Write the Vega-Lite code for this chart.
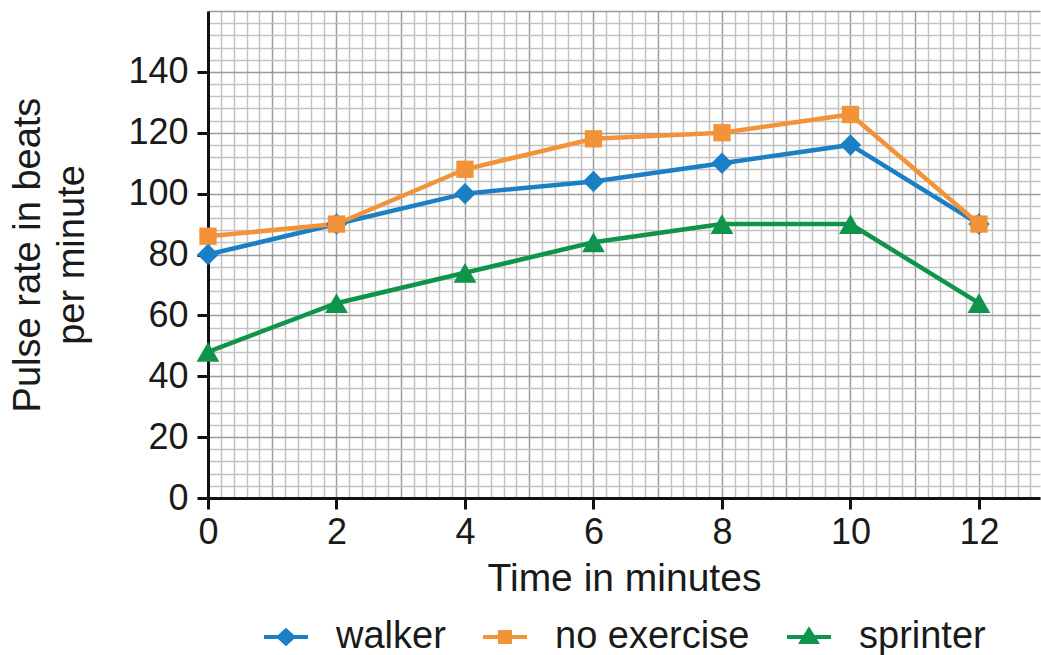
{
  "$schema": "https://vega.github.io/schema/vega-lite/v6.json",
  "autosize": "none",
  "width": 832,
  "height": 487,
  "padding": {"left": 208, "top": 11, "right": 1, "bottom": 157},
  "background": "white",
  "config": {
    "font": "Liberation Sans",
    "view": {"stroke": null}
  },
  "data": {
    "values": [
      {"t": 0, "bpm": 80, "series": "walker"},
      {"t": 2, "bpm": 90, "series": "walker"},
      {"t": 4, "bpm": 100, "series": "walker"},
      {"t": 6, "bpm": 104, "series": "walker"},
      {"t": 8, "bpm": 110, "series": "walker"},
      {"t": 10, "bpm": 116, "series": "walker"},
      {"t": 12, "bpm": 90, "series": "walker"},
      {"t": 0, "bpm": 86, "series": "no exercise"},
      {"t": 2, "bpm": 90, "series": "no exercise"},
      {"t": 4, "bpm": 108, "series": "no exercise"},
      {"t": 6, "bpm": 118, "series": "no exercise"},
      {"t": 8, "bpm": 120, "series": "no exercise"},
      {"t": 10, "bpm": 126, "series": "no exercise"},
      {"t": 12, "bpm": 90, "series": "no exercise"},
      {"t": 0, "bpm": 48, "series": "sprinter"},
      {"t": 2, "bpm": 64, "series": "sprinter"},
      {"t": 4, "bpm": 74, "series": "sprinter"},
      {"t": 6, "bpm": 84, "series": "sprinter"},
      {"t": 8, "bpm": 90, "series": "sprinter"},
      {"t": 10, "bpm": 90, "series": "sprinter"},
      {"t": 12, "bpm": 64, "series": "sprinter"}
    ]
  },
  "encoding": {
    "x": {
      "field": "t",
      "type": "quantitative",
      "scale": {"domain": [0, 12.95], "nice": false, "zero": false},
      "axis": {
        "title": "Time in minutes",
        "titleFontSize": 39,
        "titleFontWeight": "normal",
        "titleColor": "#1a1a1a",
        "titlePadding": 9,
        "values": [0, 0.2, 0.4, 0.6, 0.8, 1, 1.2, 1.4, 1.6, 1.8, 2, 2.2, 2.4, 2.6, 2.8, 3, 3.2, 3.4, 3.6, 3.8, 4, 4.2, 4.4, 4.6, 4.8, 5, 5.2, 5.4, 5.6, 5.8, 6, 6.2, 6.4, 6.6, 6.8, 7, 7.2, 7.4, 7.6, 7.8, 8, 8.2, 8.4, 8.6, 8.8, 9, 9.2, 9.4, 9.6, 9.8, 10, 10.2, 10.4, 10.6, 10.8, 11, 11.2, 11.4, 11.6, 11.8, 12, 12.2, 12.4, 12.6, 12.8],
        "labelExpr": "datum.value % 2 === 0 ? format(datum.value, 'd') : ''",
        "labelOverlap": false,
        "labelFlush": false,
        "labelBound": false,
        "labelFontSize": 36,
        "labelColor": "#1a1a1a",
        "labelPadding": 6,
        "grid": true,
        "gridColor": {"condition": {"test": "datum.value % 1 === 0", "value": "#9c9c9c"}, "value": "#c2c2c2"},
        "gridWidth": 1.5,
        "gridOpacity": 1,
        "ticks": true,
        "tickColor": "#111111",
        "tickWidth": 3,
        "tickSize": 11,
        "tickOpacity": {"condition": {"test": "datum.value % 2 === 0", "value": 1}, "value": 0},
        "domain": true,
        "domainColor": "#111111",
        "domainWidth": 3
      }
    },
    "y": {
      "field": "bpm",
      "type": "quantitative",
      "scale": {"domain": [0, 160], "nice": false},
      "axis": {
        "title": ["Pulse rate in beats", "per minute"],
        "titleFontSize": 38,
        "titleFontWeight": "normal",
        "titleColor": "#1a1a1a",
        "titleLineHeight": 44,
        "titlePadding": 36,
        "values": [0, 4, 8, 12, 16, 20, 24, 28, 32, 36, 40, 44, 48, 52, 56, 60, 64, 68, 72, 76, 80, 84, 88, 92, 96, 100, 104, 108, 112, 116, 120, 124, 128, 132, 136, 140, 144, 148, 152, 156, 160],
        "labelExpr": "datum.value % 20 === 0 && datum.value <= 140 ? format(datum.value, 'd') : ''",
        "labelOverlap": false,
        "labelFlush": false,
        "labelBound": false,
        "labelFontSize": 36,
        "labelColor": "#1a1a1a",
        "labelPadding": 9,
        "grid": true,
        "gridColor": {"condition": {"test": "datum.value % 20 === 0", "value": "#9c9c9c"}, "value": "#c2c2c2"},
        "gridWidth": 1.5,
        "gridOpacity": 1,
        "ticks": true,
        "tickColor": "#111111",
        "tickWidth": 3,
        "tickSize": 11,
        "tickOpacity": {"condition": {"test": "datum.value % 20 === 0 && datum.value <= 140", "value": 1}, "value": 0},
        "domain": true,
        "domainColor": "#111111",
        "domainWidth": 3
      }
    },
    "color": {
      "field": "series",
      "type": "nominal",
      "scale": {"domain": ["walker", "no exercise", "sprinter"], "range": ["#1b7fc4", "#f39339", "#10934a"]},
      "legend": {
        "title": null,
        "orient": "none",
        "direction": "horizontal",
        "legendX": 59,
        "legendY": 607,
        "symbolSize": 400,
        "symbolStrokeWidth": 4,
        "labelFontSize": 38,
        "labelColor": "#1a1a1a",
        "labelOffset": 31,
        "labelLimit": 400,
        "columnPadding": 29,
        "gridAlign": "none",
        "encode": {
          "symbols": {
            "update": {
              "shape": {"signal": "datum.value === 'walker' ? 'M-2.2,0H2.2M0,-0.66L0.72,0L0,0.66L-0.72,0Z' : datum.value === 'no exercise' ? 'M-2.2,0H2.2M-0.5,-0.5H0.5V0.5H-0.5Z' : 'M-2.2,0H2.2M0,-0.7L0.74,0.5L-0.74,0.5Z'"},
              "fill": {"signal": "scale('color', datum.value)"},
              "stroke": {"signal": "scale('color', datum.value)"},
              "strokeWidth": {"value": 4},
              "opacity": {"value": 1}
            }
          }
        }
      }
    }
  },
  "layer": [
    {
      "mark": {"type": "line", "strokeWidth": 4.5}
    },
    {
      "transform": [{"filter": "datum.series === 'walker'"}],
      "mark": {"type": "point", "shape": "diamond", "size": 460, "filled": true, "opacity": 1, "strokeWidth": 0}
    },
    {
      "transform": [{"filter": "datum.series === 'no exercise'"}],
      "mark": {"type": "point", "shape": "square", "size": 300, "filled": true, "opacity": 1, "strokeWidth": 0}
    },
    {
      "transform": [{"filter": "datum.series === 'sprinter'"}],
      "mark": {"type": "point", "shape": "triangle-up", "size": 520, "filled": true, "opacity": 1, "strokeWidth": 0}
    }
  ]
}
